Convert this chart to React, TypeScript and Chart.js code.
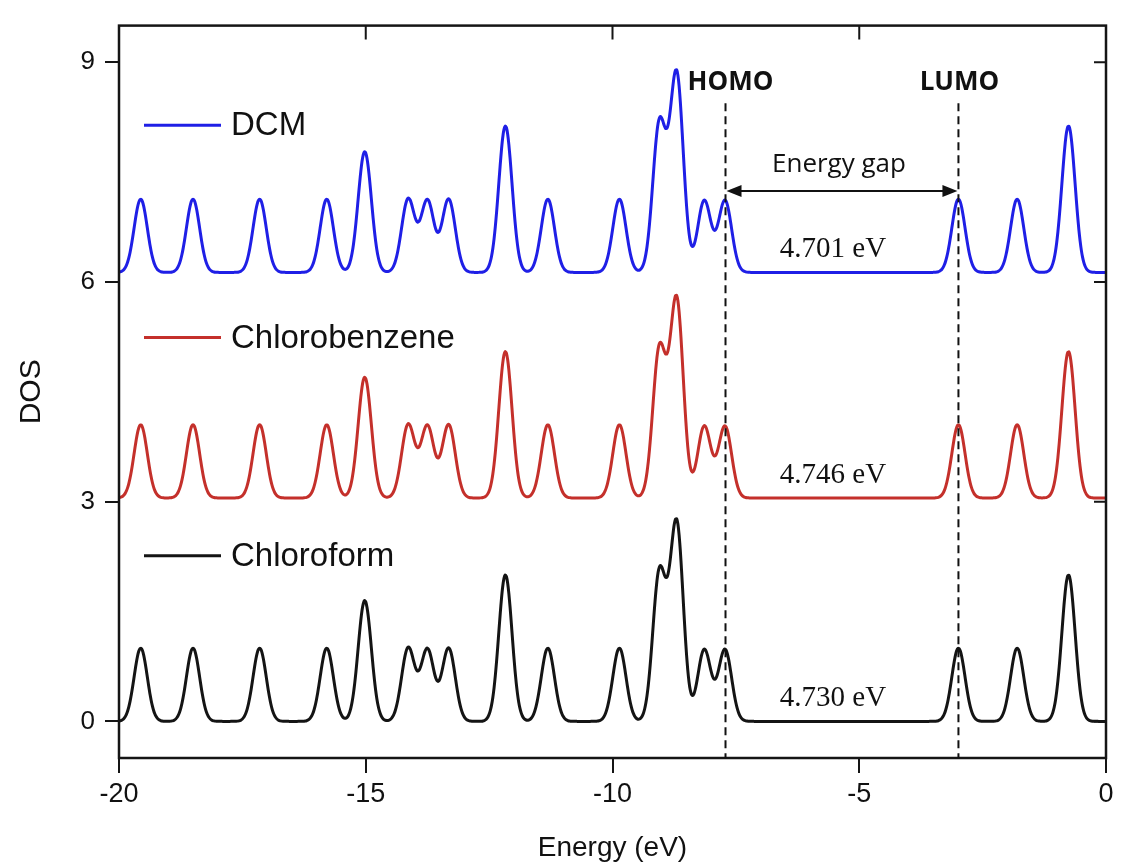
import React, { useEffect, useRef } from 'react';
import { Chart, registerables } from 'chart.js';
Chart.register(...registerables);

// ---- data ----
const seriesNames = ['DCM', 'Chlorobenzene', 'Chloroform'];
const seriesColors = ['#1f1fe6', '#c4302b', '#141414'];
const seriesOffsets = [6.13, 3.05, 0];
const gapLabels = ['4.701 eV', '4.746 eV', '4.730 eV'];
// energy levels (eV) and their relative weights (peak heights)
const peakEnergies = [-19.56, -18.5, -17.15, -15.79, -15.02, -14.14, -13.75, -13.32, -12.17, -11.31, -9.86, -9.05, -8.7, -8.14, -7.72, -2.99, -1.8, -0.76];
const peakHeights = [1, 1, 1, 1, 1.65, 1, 0.98, 1, 2, 1, 1, 2.02, 2.7, 0.98, 0.98, 1, 1, 2];
const broadening = 0.134; // Gaussian sigma (eV)
const homoEnergy = -7.71;
const lumoEnergy = -2.99;
const xTicks = [-20, -15, -10, -5, 0];
const yTicks = [0, 3, 6, 9];
const xMin = -20, xMax = 0, yMin = -0.5, yMax = 9.5;

function dosCurve(offset: number) {
  const pts: { x: number; y: number }[] = [];
  for (let i = 0; i <= 800; i++) {
    const e = xMin + i * 0.025;
    let v = offset;
    for (let k = 0; k < peakEnergies.length; k++) {
      const d = e - peakEnergies[k];
      v += peakHeights[k] * Math.exp(-(d * d) / (2 * broadening * broadening));
    }
    pts.push({ x: e, y: v });
  }
  return pts;
}

const SANS = '"Liberation Sans", Arial, sans-serif';
const CAL = '"Open Sans", "Noto Sans", sans-serif';
const SERIF = '"Liberation Serif", "Times New Roman", serif';

const annotations = {
  id: 'annotations',
  afterDatasetsDraw(chart: any) {
    const { ctx, chartArea: a, scales } = chart;
    const xs = scales.x, ys = scales.y;
    ctx.save();
    // frame
    ctx.strokeStyle = '#151515';
    ctx.lineWidth = 2.5;
    ctx.strokeRect(a.left, a.top, a.right - a.left, a.bottom - a.top);
    // inward ticks on top and right
    ctx.lineWidth = 2;
    ctx.beginPath();
    xTicks.forEach((t) => {
      const px = xs.getPixelForValue(t);
      ctx.moveTo(px, a.top);
      ctx.lineTo(px, a.top + 14);
    });
    yTicks.forEach((t) => {
      const py = ys.getPixelForValue(t);
      ctx.moveTo(a.right, py);
      ctx.lineTo(a.right - 12, py);
    });
    ctx.stroke();

    // HOMO / LUMO dashed lines
    const hx = xs.getPixelForValue(homoEnergy);
    const lx = xs.getPixelForValue(lumoEnergy);
    const dashTop = ys.getPixelForValue(8.44);
    ctx.setLineDash([8, 5]);
    ctx.lineWidth = 2;
    ctx.strokeStyle = '#111';
    ctx.beginPath();
    ctx.moveTo(hx, dashTop);
    ctx.lineTo(hx, a.bottom);
    ctx.moveTo(lx, dashTop);
    ctx.lineTo(lx, a.bottom);
    ctx.stroke();
    ctx.setLineDash([]);

    // labels HOMO / LUMO
    ctx.fillStyle = '#111';
    ctx.font = `bold 26px ${CAL}`;
    ctx.textAlign = 'center';
    ctx.textBaseline = 'middle';
    const labY = ys.getPixelForValue(8.72);
    ctx.fillText('HOMO', hx + 5, labY);
    ctx.fillText('LUMO', lx + 1, labY);

    // energy gap arrow
    const ay = ys.getPixelForValue(7.24);
    ctx.lineWidth = 2;
    ctx.beginPath();
    ctx.moveTo(hx + 10, ay);
    ctx.lineTo(lx - 10, ay);
    ctx.stroke();
    ctx.beginPath();
    ctx.moveTo(hx + 1, ay);
    ctx.lineTo(hx + 16, ay - 6);
    ctx.lineTo(hx + 16, ay + 6);
    ctx.closePath();
    ctx.moveTo(lx - 1, ay);
    ctx.lineTo(lx - 16, ay - 6);
    ctx.lineTo(lx - 16, ay + 6);
    ctx.closePath();
    ctx.fill();
    ctx.font = `26px ${CAL}`;
    ctx.fillText('Energy gap', (hx + lx) / 2 - 3, ys.getPixelForValue(7.6));

    // gap values
    ctx.font = `29px ${SERIF}`;
    seriesOffsets.forEach((off, i) => {
      ctx.fillText(gapLabels[i], (hx + lx) / 2 - 9, ys.getPixelForValue(off + 0.31));
    });

    // legend entries
    const legendY = [8.14, 5.24, 2.26];
    ctx.textAlign = 'left';
    ctx.font = `33px ${SANS}`;
    seriesNames.forEach((n, i) => {
      const py = ys.getPixelForValue(legendY[i]);
      ctx.strokeStyle = seriesColors[i];
      ctx.lineWidth = 3;
      ctx.beginPath();
      ctx.moveTo(a.left + 25, py);
      ctx.lineTo(a.left + 102, py);
      ctx.stroke();
      ctx.fillStyle = '#111';
      ctx.fillText(n, a.left + 112, py + 1);
    });
    ctx.restore();
  },
};

export default function App() {
  const ref = useRef<HTMLCanvasElement | null>(null);
  useEffect(() => {
    document.body.style.margin = '0';
    if (!ref.current) return;
    const chart = new Chart(ref.current, {
      type: 'line',
      data: {
        datasets: seriesNames.map((n, i) => ({
          label: n,
          data: dosCurve(seriesOffsets[i]),
          borderColor: seriesColors[i],
          borderWidth: 3,
          borderJoinStyle: 'round',
          pointRadius: 0,
          tension: 0.2,
          fill: false,
        })),
      },
      options: {
        responsive: false,
        animation: false,
        devicePixelRatio: 1,
        parsing: false,
        layout: { padding: { left: 0, top: 24, right: 17, bottom: 0 } },
        plugins: { legend: { display: false }, tooltip: { enabled: false } },
        scales: {
          x: {
            type: 'linear',
            min: xMin,
            max: xMax,
            afterBuildTicks: (s: any) => { s.ticks = xTicks.map((v) => ({ value: v })); },
            afterFit: (s: any) => { s.height = 108; },
            border: { display: false },
            grid: { display: true, drawOnChartArea: false, drawTicks: true, tickLength: 15, color: '#151515', lineWidth: 2 },
            ticks: { color: '#111', font: { family: SANS, size: 27 }, padding: 5, maxRotation: 0 },
            title: { display: true, text: 'Energy (eV)', color: '#111', font: { family: SANS, size: 28 }, padding: { top: 0, bottom: 1 } },
          },
          y: {
            type: 'linear',
            min: yMin,
            max: yMax,
            afterBuildTicks: (s: any) => { s.ticks = yTicks.map((v) => ({ value: v })); },
            afterFit: (s: any) => { s.width = 119; },
            border: { display: false },
            grid: { display: true, drawOnChartArea: false, drawTicks: true, tickLength: 14, color: '#151515', lineWidth: 2 },
            ticks: { color: '#111', font: { family: SANS, size: 26 }, padding: 10 },
            title: { display: true, text: 'DOS', color: '#111', font: { family: SANS, size: 30 }, padding: { top: 14, bottom: 0 } },
          },
        },
      },
      plugins: [annotations],
    } as any);
    return () => chart.destroy();
  }, []);
  return <canvas ref={ref} width={1123} height={866} style={{ display: 'block' }} />;
}
